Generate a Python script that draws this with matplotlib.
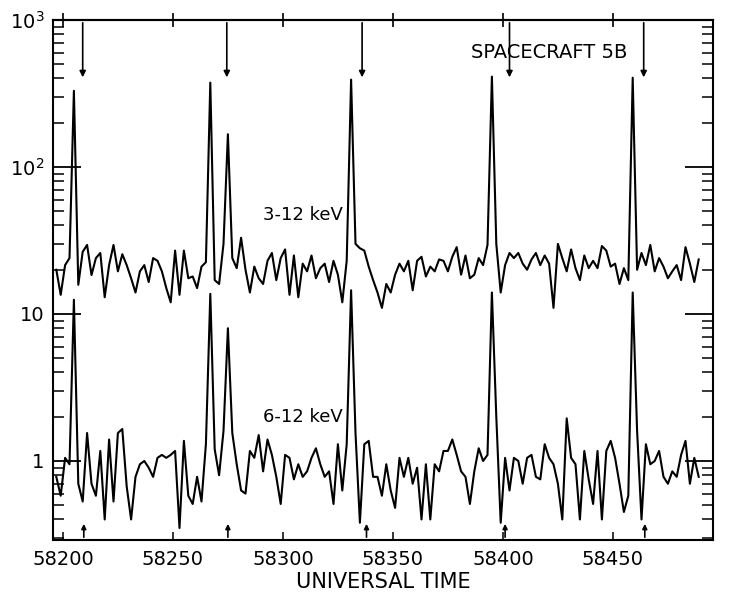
import numpy as np
import matplotlib
matplotlib.use("Agg")
import matplotlib.pyplot as plt

# -------------------------------
# Data (counts per bin)
# -------------------------------
t_start = 58197
t_step = 2

soft_counts = [  # 3-12 keV
    20, 13.5, 21.5, 24, 330, 15.8, 26.5, 29.5, 18.4, 24,
    26, 13, 21.5, 29.5, 19.5, 25.5, 21.5, 17.5, 14, 19.5,
    21.5, 16.5, 24, 23, 19.5, 15, 12, 27, 13.5, 27,
    17.5, 18, 15, 21, 22.5, 375, 17, 16, 30, 167,
    24, 20.5, 33, 20, 14, 21, 17.5, 16, 23, 26,
    17, 24, 27.5, 13.5, 25, 13, 22, 19.5, 25, 17.5,
    20.5, 22, 16.5, 23, 18.5, 12, 23, 393, 30, 28,
    27, 21, 17, 14, 11, 16, 14, 18.5, 22, 19.5,
    23, 14.5, 23, 24.5, 18, 21, 19.5, 23.5, 23, 19.5,
    24.5, 28.5, 18.5, 25, 17.5, 18.5, 24, 21.5, 29.5, 412,
    30, 14, 21.5, 26, 24, 26, 22, 20, 23.5, 26,
    21.5, 25, 22, 11, 30, 24, 19.5, 27.5, 20.5, 17,
    25, 20.5, 23, 20.5, 29, 27, 21, 22, 16, 20.5,
    17, 405, 20, 26, 21.5, 29.5, 19.5, 24, 21, 17.5,
    19.5, 21.5, 17, 28.5, 22, 16.5, 23.5,
]

hard_counts = [  # 6-12 keV
    0.78, 0.58, 1.05, 0.95, 12.5, 0.7, 0.53, 1.55, 0.7, 0.58,
    1.17, 0.4, 1.4, 0.53, 1.55, 1.65, 0.67, 0.4, 0.78, 0.95,
    1.0, 0.9, 0.78, 1.05, 1.1, 1.05, 1.1, 1.17, 0.35, 1.37,
    0.58, 0.51, 0.78, 0.53, 1.3, 13.7, 1.2, 0.8, 1.6, 8.0,
    1.55, 0.95, 0.63, 0.6, 1.17, 1.05, 1.5, 0.85, 1.4, 1.1,
    0.78, 0.51, 1.1, 1.05, 0.75, 0.95, 0.78, 0.85, 1.05, 1.22,
    0.95, 0.78, 0.85, 0.51, 1.3, 0.63, 1.3, 14.5, 1.55, 0.38,
    1.3, 1.37, 0.78, 0.78, 0.58, 0.95, 0.63, 0.48, 1.05, 0.78,
    1.05, 0.7, 0.9, 0.4, 0.95, 0.4, 0.95, 0.85, 1.17, 1.17,
    1.4, 1.1, 0.85, 0.78, 0.51, 0.85, 1.22, 1.0, 1.1, 14,
    2.0, 0.38, 1.05, 0.63, 1.05, 1.0, 0.7, 1.05, 1.1, 0.78,
    0.75, 1.3, 1.05, 0.95, 0.7, 0.4, 1.95, 1.05, 0.95, 0.4,
    1.17, 0.75, 0.51, 1.17, 0.4, 1.17, 1.37, 1.05, 0.7, 0.45,
    0.58, 14, 1.6, 0.4, 1.3, 0.95, 1.0, 1.17, 0.78, 0.7,
    0.85, 0.78, 1.1, 1.37, 0.7, 1.05, 0.78,
]

down_arrow_times = [58209, 58274.5, 58336, 58403, 58464]
up_arrow_times = [58209.5, 58275, 58338, 58401, 58464.5]

x_ticks = [58200, 58250, 58300, 58350, 58400, 58450]
y_ticks = [1, 10, 100, 1000]
y_tick_labels = ["1", "10", "$10^2$", "$10^3$"]

t = t_start + t_step * np.arange(len(soft_counts))

# -------------------------------
# Plot
# -------------------------------
plt.rcParams["font.family"] = "DejaVu Sans"
fig = plt.figure(figsize=(7.35, 5.95), dpi=100)
ax = fig.add_axes([53 / 735, 55 / 595, 660 / 735, 520 / 595])

ax.plot(t, soft_counts, color="black", lw=1.5)
ax.plot(t, hard_counts, color="black", lw=1.5)

ax.set_yscale("log")
ax.set_xlim(58195.5, 58495.5)
ax.set_ylim(0.29, 1000)

ax.set_xticks(x_ticks)
ax.set_xticklabels([str(v) for v in x_ticks], fontsize=14)
ax.set_yticks(y_ticks)
ax.set_yticklabels(y_tick_labels, fontsize=14)

ax.tick_params(axis="y", which="major", direction="in", length=20, width=1.3,
               right=True, pad=6)
ax.tick_params(axis="y", which="minor", direction="in", length=8, width=1.1,
               right=True)
ax.tick_params(axis="x", which="major", direction="in", length=6, width=1.1,
               pad=7)
ax.tick_params(axis="x", which="minor", bottom=False)

top = ax.secondary_xaxis("top")
top.set_xticks(x_ticks)
top.set_xticklabels([])
top.tick_params(direction="inout", length=10, width=1.2)

for s in ax.spines.values():
    s.set_linewidth(1.5)
top.spines["top"].set_linewidth(1.5)

# event markers
for tm in down_arrow_times:
    ax.annotate("", xy=(tm, 390), xytext=(tm, 1000),
                arrowprops=dict(arrowstyle="-|>", color="black", lw=1.2,
                                mutation_scale=9))
for tm in up_arrow_times:
    ax.annotate("", xy=(tm, 0.39), xytext=(tm, 0.29),
                arrowprops=dict(arrowstyle="-|>", color="black", lw=1.2,
                                mutation_scale=7))

ax.text(58291, 47, "3-12 keV", fontsize=13, ha="left", va="center")
ax.text(58291, 2.0, "6-12 keV", fontsize=13, ha="left", va="center")
ax.text(58421, 600, "SPACECRAFT 5B", fontsize=14, ha="center", va="center")

ax.set_xlabel("UNIVERSAL TIME", fontsize=15, labelpad=2)

fig.savefig("out.png", dpi=100)
